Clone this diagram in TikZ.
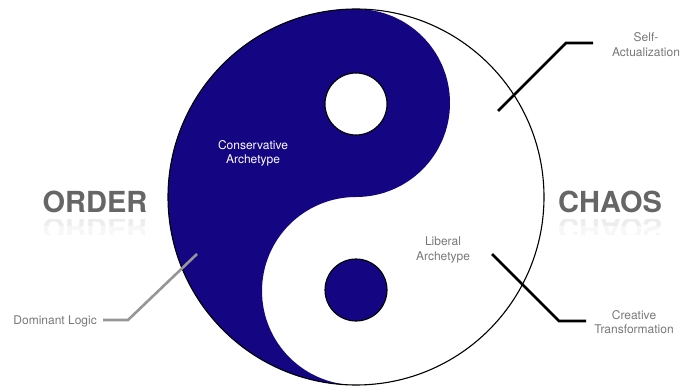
\documentclass[tikz,border=0pt]{standalone}
\usepackage{fontspec}
\setmainfont{TeX Gyre Heros}
\definecolor{yinnavy}{RGB}{20,6,130}
\definecolor{labelgray}{RGB}{120,120,120}
\definecolor{biggray}{RGB}{102,102,102}
\definecolor{leadgray}{RGB}{150,150,150}
\begin{document}
\begin{tikzpicture}[x=1pt,y=1pt,
  lbl/.style={inner sep=0pt, align=center, text=labelgray, font=\fontsize{12}{14.5}\selectfont},
  bigword/.style={inner sep=0pt, anchor=base, text=biggray, font=\fontsize{29}{32}\selectfont\bfseries},
  leader/.style={line width=2.6pt, line join=miter, black},
  leadergray/.style={line width=2.6pt, line join=miter, leadgray},
  outline/.style={draw=black, line width=1.1pt}]
\useasboundingbox (0,0) rectangle (683,389);
% yin-yang
\coordinate (C) at (356,192);
\fill[yinnavy] (356,380) arc[start angle=90, end angle=270, radius=188]
  arc[start angle=-90, end angle=-270, radius=94]
  arc[start angle=-90, end angle=90, radius=94] -- cycle;
\draw[outline] (C) circle[radius=188];
\node[circle, minimum size=62pt, inner sep=0pt, fill=white, outline] (wdot) at (356,285) {};
\node[circle, minimum size=62pt, inner sep=0pt, fill=yinnavy, outline] (ddot) at (356,99) {};
% big words
\node[bigword] (order) at (95,177) {ORDER};
\node[bigword] (chaos) at (610,177) {CHAOS};
\begin{scope}
  \clip (0,163) rectangle (683,170);
  \node[bigword, yscale=-1, text=black!7] (orderR) at (95,170) {ORDER};
  \node[bigword, yscale=-1, text=black!7] (chaosR) at (610,170) {CHAOS};
\end{scope}
\begin{scope}
  \clip (0,155) rectangle (683,163);
  \node[bigword, yscale=-1, text=black!3] (orderR2) at (95,170) {ORDER};
  \node[bigword, yscale=-1, text=black!3] (chaosR2) at (610,170) {CHAOS};
\end{scope}
% inner labels
\node[lbl, text=white] (cons) at (253,235.5) {Conservative\\Archetype};
\node[lbl] (lib) at (443,139) {Liberal\\Archetype};
% outer labels
\node[lbl] (self) at (646,344.5) {Self-\\Actualization};
\node[lbl] (creat) at (634,67) {Creative\\Transformation};
\node[lbl, anchor=east] (dom) at (97,68) {Dominant Logic};
% leaders
\coordinate (s0) at (498,278); \coordinate (s1) at (566,346); \coordinate (s2) at (593,346);
\coordinate (c0) at (492,135); \coordinate (c1) at (559,68); \coordinate (c2) at (586,68);
\coordinate (d0) at (197,135); \coordinate (d1) at (128,69); \coordinate (d2) at (103,69);
\draw[leader] (s0) -- (s1) -- (s2);
\draw[leader] (c0) -- (c1) -- (c2);
\draw[leadergray] (d0) -- (d1) -- (d2);
\end{tikzpicture}
\end{document}
